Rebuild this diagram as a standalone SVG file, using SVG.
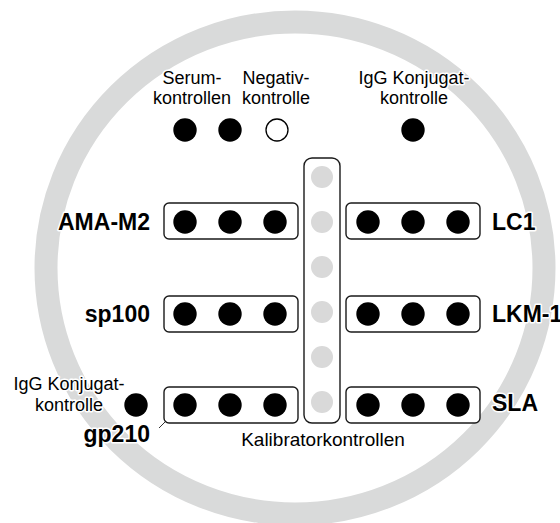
<svg xmlns="http://www.w3.org/2000/svg" width="560" height="523" viewBox="0 0 560 523">
<style>
.ring{fill:none;stroke:#d9dada;stroke-width:23}
.t{font-family:"Liberation Sans",Arial,sans-serif;font-size:18px;fill:#000;stroke:#fff;stroke-width:3;stroke-linejoin:round;paint-order:stroke}
.b{font-family:"Liberation Sans",Arial,sans-serif;font-size:23px;font-weight:bold;fill:#000;stroke:#fff;stroke-width:3;stroke-linejoin:round;paint-order:stroke}
.box{fill:#fff;stroke:#1a1a1a;stroke-width:1.4}
.dot{fill:#000}
.open{fill:#fff;stroke:#000;stroke-width:1.3}
.cal{fill:#d9d9d9}
.conn{stroke:#333;stroke-width:1;fill:none}
</style>
<rect width="560" height="523" fill="#fff"/>
<ellipse class="ring" cx="295" cy="268" rx="249" ry="246"/>

<g id="top-controls">
<text class="t" x="192" y="84" text-anchor="middle">Serum-</text>
<text class="t" x="192" y="104" text-anchor="middle">kontrollen</text>
<text class="t" x="276" y="84" text-anchor="middle">Negativ-</text>
<text class="t" x="276" y="104" text-anchor="middle">kontrolle</text>
<text class="t" x="414" y="84" text-anchor="middle">IgG Konjugat-</text>
<text class="t" x="414" y="104" text-anchor="middle">kontrolle</text>
<circle class="dot" cx="185" cy="130" r="11.7"/>
<circle class="dot" cx="230" cy="130" r="11.7"/>
<circle class="open" cx="277" cy="130" r="11"/>
<circle class="dot" cx="413" cy="130" r="11.7"/>
</g>

<g id="calibrator">
<rect class="box" x="304" y="158" width="36" height="265" rx="8"/>
<circle class="cal" cx="322" cy="177" r="11"/>
<circle class="cal" cx="322" cy="222" r="11"/>
<circle class="cal" cx="322" cy="267" r="11"/>
<circle class="cal" cx="322" cy="312" r="11"/>
<circle class="cal" cx="322" cy="357" r="11"/>
<circle class="cal" cx="322" cy="402" r="11"/>
<text class="t" x="323" y="446" text-anchor="middle" style="font-size:19px">Kalibratorkontrollen</text>
</g>

<g id="ama-m2">
<rect class="box" x="164" y="203" width="134" height="36" rx="5"/>
<circle class="dot" cx="185" cy="222" r="11.7"/>
<circle class="dot" cx="230" cy="222" r="11.7"/>
<circle class="dot" cx="275" cy="222" r="11.7"/>
<text class="b" x="150" y="230" text-anchor="end">AMA-M2</text>
</g>

<g id="sp100">
<rect class="box" x="164" y="296" width="134" height="36" rx="5"/>
<circle class="dot" cx="185" cy="314" r="11.7"/>
<circle class="dot" cx="230" cy="314" r="11.7"/>
<circle class="dot" cx="275" cy="314" r="11.7"/>
<text class="b" x="150" y="322" text-anchor="end">sp100</text>
</g>

<g id="gp210">
<rect class="box" x="164" y="387" width="134" height="36" rx="5"/>
<circle class="dot" cx="185" cy="405" r="11.7"/>
<circle class="dot" cx="230" cy="405" r="11.7"/>
<circle class="dot" cx="275" cy="405" r="11.7"/>
<text class="b" x="150" y="442" text-anchor="end">gp210</text>
</g>

<g id="igg-left">
<text class="t" x="69" y="390" text-anchor="middle">IgG Konjugat-</text>
<text class="t" x="69" y="411" text-anchor="middle">kontrolle</text>
<circle class="dot" cx="136" cy="405" r="11.7"/>
</g>

<g id="lc1">
<rect class="box" x="346" y="203" width="134" height="36" rx="5"/>
<circle class="dot" cx="368" cy="222" r="11.7"/>
<circle class="dot" cx="413" cy="222" r="11.7"/>
<circle class="dot" cx="458" cy="222" r="11.7"/>
<text class="b" x="492" y="230">LC1</text>
</g>

<g id="lkm-1">
<rect class="box" x="346" y="296" width="134" height="36" rx="5"/>
<circle class="dot" cx="368" cy="314" r="11.7"/>
<circle class="dot" cx="413" cy="314" r="11.7"/>
<circle class="dot" cx="458" cy="314" r="11.7"/>
<text class="b" x="492" y="322">LKM-1</text>
</g>

<g id="sla">
<rect class="box" x="346" y="387" width="134" height="36" rx="5"/>
<circle class="dot" cx="368" cy="405" r="11.7"/>
<circle class="dot" cx="413" cy="405" r="11.7"/>
<circle class="dot" cx="458" cy="405" r="11.7"/>
<text class="b" x="492" y="411">SLA</text>
</g>

<g id="connectors">
<line class="conn" x1="159" y1="428" x2="165" y2="422"/>
</g>
</svg>
